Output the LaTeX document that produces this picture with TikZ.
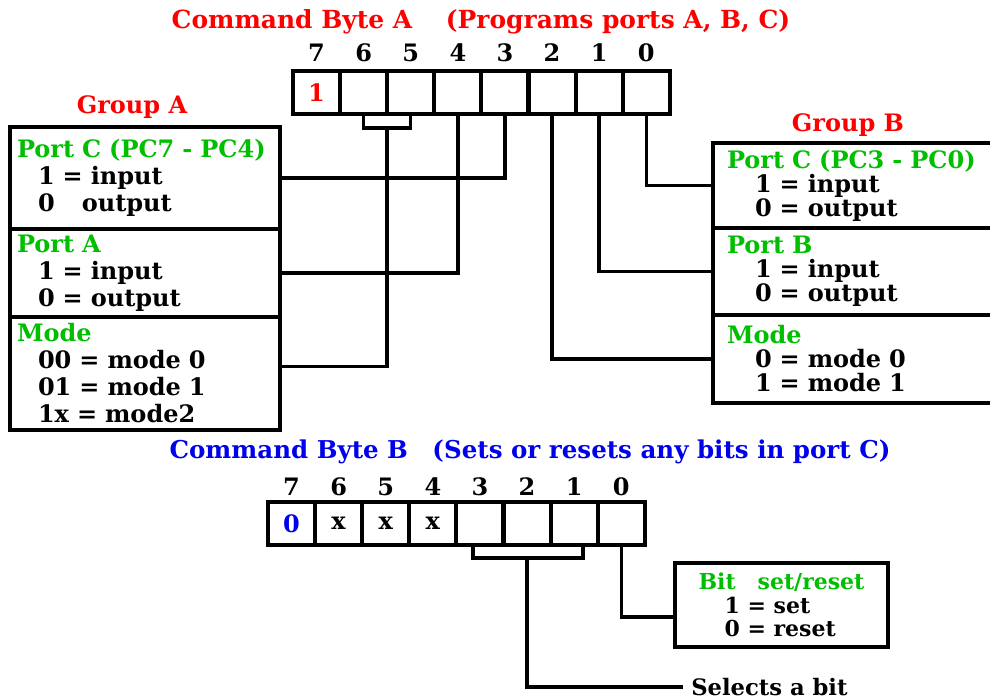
\documentclass[tikz,border=0pt]{standalone}
\usepackage{fontspec}
\setmainfont{DejaVu Serif}
\usetikzlibrary{calc}

\definecolor{titlered}{RGB}{255,0,0}
\definecolor{titleblue}{RGB}{0,0,235}
\definecolor{portgreen}{RGB}{0,190,0}

\newcommand*{\cellw}{47.1}
\newcommand*{\regAx}{293}
\newcommand*{\regAy}{92.5}
\newcommand*{\regBx}{268}
\newcommand*{\regBy}{523.5}

\begin{document}
\begin{tikzpicture}
[
	x=0.75pt, y=-0.75pt,
	every node/.style={font=\bfseries\fontsize{18}{20}\selectfont},
	bitcell/.style={draw,line width=3pt,minimum width=35.3pt,minimum height=32.25pt,inner sep=0pt,outer sep=0pt},
	grpA/.style={draw,line width=3pt,anchor=north west,align=left,inner xsep=5.25pt,inner ysep=0pt,outer sep=0pt,
		text width=192pt,font=\bfseries\fontsize{18}{20.25}\selectfont},
	grpB/.style={draw,line width=3pt,anchor=north west,align=left,inner xsep=10.5pt,inner ysep=0pt,outer sep=0pt,
		text width=194pt,font=\bfseries\fontsize{18}{18}\selectfont},
	wire/.style={line width=2.6pt}
]

	\useasboundingbox (0,0) rectangle (990,700);
	\clip (0,0) rectangle (990,700);

	% command byte A
	\node[text=titlered,font=\bfseries\fontsize{18.7}{20}\selectfont] (titleA) at (481,22)
		{Command Byte A\quad\ (Programs ports A, B, C)};
	\foreach \b/\val [count=\i from 0] in {7/\textcolor{titlered}{1},6/{},5/{},4/{},3/{},2/{},1/{},0/{}}
	{
		\node[bitcell] (a\b) at ({\regAx+\cellw*(\i+0.5)},\regAy) {\val};
		\node (da\b) at ({\regAx+\cellw*(\i+0.5)},53) {\b};
	}

	% group A
	\node[text=titlered] (grpAlbl) at (132,107) {Group A};
	\node[grpA,minimum height=76.5pt] (pca) at (10,127)
		{\textcolor{portgreen}{Port C (PC7 - PC4)}\\\hspace*{15.75pt}1 = input\\\hspace*{15.75pt}0 \hspace{0.8em}output};
	\node[grpA,minimum height=66pt] (pa) at (pca.south west)
		{\textcolor{portgreen}{Port A}\\\hspace*{15.75pt}1 = input\\\hspace*{15.75pt}0 = output};
	\node[grpA,minimum height=84.75pt] (modea) at (pa.south west)
		{\textcolor{portgreen}{Mode}\\\hspace*{15.75pt}00 = mode 0\\\hspace*{15.75pt}01 = mode 1\\\hspace*{15.75pt}1x = mode2};

	% group B
	\node[text=titlered] (grpBlbl) at (848,125) {Group B};
	\node[grpB,minimum height=63.75pt] (pcb) at (713,143)
		{\textcolor{portgreen}{Port C (PC3 - PC0)}\\\hspace*{21pt}1 = input\\\hspace*{21pt}0 = output};
	\node[grpB,minimum height=65.25pt] (pb) at (pcb.south west)
		{\textcolor{portgreen}{Port B}\\\hspace*{21pt}1 = input\\\hspace*{21pt}0 = output};
	\node[grpB,minimum height=66pt] (modeb) at (pb.south west)
		{\textcolor{portgreen}{Mode}\\\hspace*{21pt}0 = mode 0\\\hspace*{21pt}1 = mode 1};

	% wires A
	\coordinate (brA) at ($(a6.south)!0.5!(a5.south)+(0,14)$);
	\draw[wire] (a6.south) -- ++(0,14) -| (a5.south);
	\draw[wire] (brA) |- ($(modea.east)+(0,-7)$);
	\draw[wire] (a4.south) |- (pa.east);
	\draw[wire] (a3.south) |- (pca.east);
	\draw[wire] (a2.south) |- (modeb.west);
	\draw[wire] (a1.south) |- (pb.west);
	\draw[wire] (a0.south) |- (pcb.west);

	% command byte B
	\node[text=titleblue,font=\bfseries\fontsize{18.4}{20}\selectfont] (titleB) at (530,452)
		{Command Byte B\quad (Sets or resets any bits in port C)};
	\foreach \b/\val [count=\i from 0] in {7/\textcolor{titleblue}{0},6/x,5/x,4/x,3/{},2/{},1/{},0/{}}
	{
		\node[bitcell] (b\b) at ({\regBx+\cellw*(\i+0.5)},\regBy) {\val};
		\node (db\b) at ({\regBx+\cellw*(\i+0.5)},487) {\b};
	}

	% set/reset box
	\node[draw,line width=3pt,anchor=north west,outer sep=0pt,minimum width=159.75pt,minimum height=63pt,align=left,
		font=\bfseries\fontsize{16.5}{17.5}\selectfont] (bitbox) at (675,563)
		{\textcolor{portgreen}{Bit\quad set/reset}\\\hspace*{19.5pt}1 = set\\\hspace*{19.5pt}0 = reset};
	\node[anchor=west,inner sep=6pt,font=\bfseries\fontsize{17}{19}\selectfont] (sel) at (683,687) {Selects a bit};

	% wires B
	\coordinate (brB) at ($(b2.south)+(0,13)$);
	\draw[wire] ($(b3.south)+(-7,0)$) -- ++(0,13) -| ($(b1.south)+(9,0)$);
	\draw[wire] (brB) |- (sel.west);
	\draw[wire] (b0.south) |- ($(bitbox.west)+(0,12)$);

\end{tikzpicture}
\end{document}
